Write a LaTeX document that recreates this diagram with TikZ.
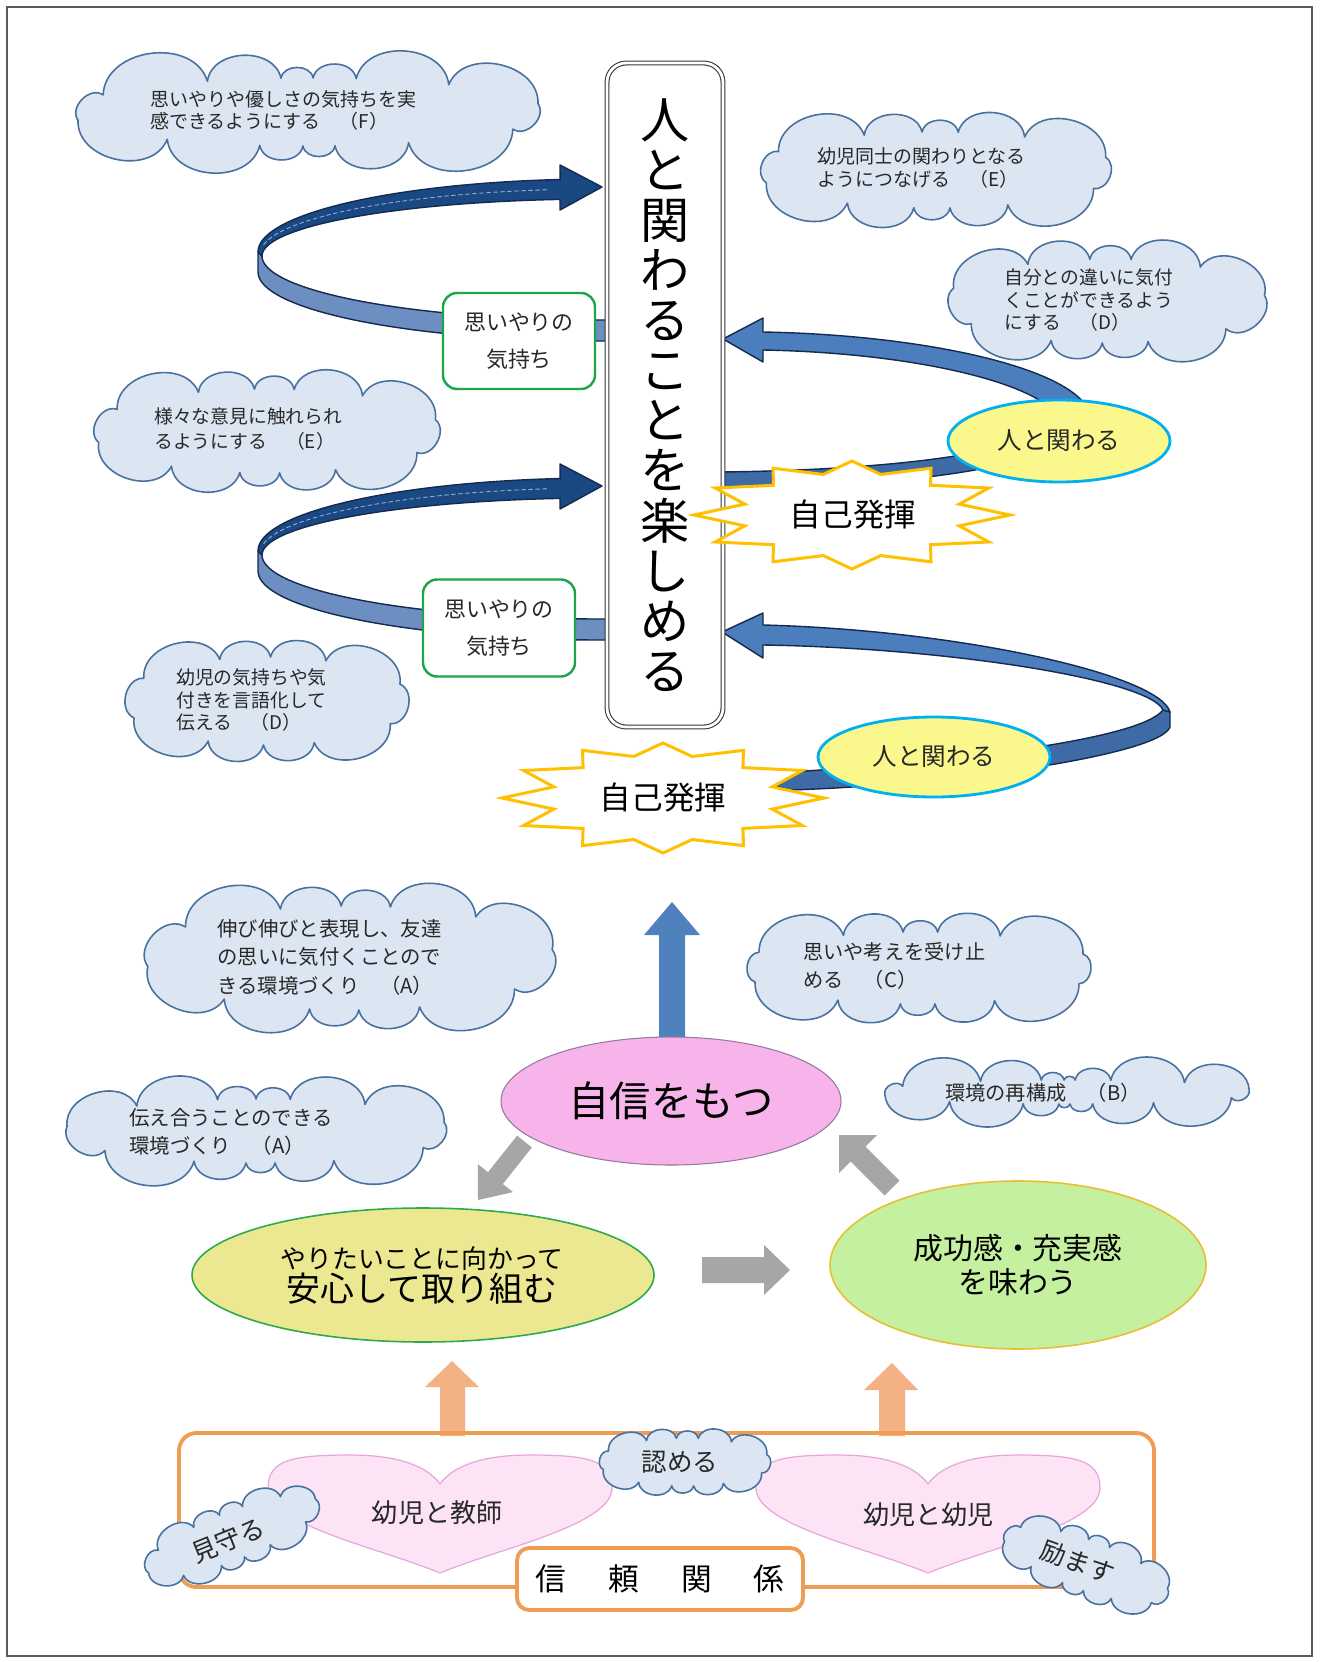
\documentclass[tikz,border=0pt]{standalone}
\usepackage{fontspec}
\setmainfont{Noto Sans CJK JP}
\usetikzlibrary{shapes.geometric}
\definecolor{cloudfill}{RGB}{220,230,242}
\definecolor{cloudline}{RGB}{72,112,160}
\definecolor{txt}{RGB}{40,40,40}
\definecolor{navyfill}{RGB}{26,72,130}
\definecolor{navyback}{RGB}{108,142,192}
\definecolor{bandline}{RGB}{20,42,78}
\definecolor{bluefill}{RGB}{76,125,188}
\definecolor{blueback}{RGB}{62,106,166}
\definecolor{dashc}{RGB}{150,175,210}
\definecolor{boxgreen}{RGB}{30,165,75}
\definecolor{yelfill}{RGB}{250,248,140}
\definecolor{cyanline}{RGB}{0,176,240}
\definecolor{stargold}{RGB}{255,192,0}
\definecolor{arrowblue}{RGB}{79,129,189}
\definecolor{arrowgray}{RGB}{166,166,166}
\definecolor{arroworange}{RGB}{244,177,131}
\definecolor{pinkfill}{RGB}{247,180,234}
\definecolor{pinkline}{RGB}{150,120,160}
\definecolor{khaki}{RGB}{235,232,145}
\definecolor{khakiline}{RGB}{45,170,75}
\definecolor{lgreen}{RGB}{196,240,160}
\definecolor{lgreenline}{RGB}{232,190,50}
\definecolor{heartfill}{RGB}{252,228,246}
\definecolor{heartline}{RGB}{235,165,220}
\definecolor{orangeline}{RGB}{238,157,82}
\definecolor{framegray}{RGB}{90,90,90}
\newcommand\setfs[2]{\fontsize{#1pt}{#2pt}\selectfont}
\def\pxu{0.02cm}
% cloud: cx cy rx ry n alpha offset
\newcommand\cloudat[7]{%
  \filldraw[cloudsty] ({#1+#3*cos(cloudt(#7,#6))},{#2-#4*sin(cloudt(#7,#6))})
  \foreach \i in {1,...,#5} { to[bend right=80, looseness=1.15] ({#1+#3*cos(cloudt(360*\i/#5+#7,#6))},{#2-#4*sin(cloudt(360*\i/#5+#7,#6))}) } -- cycle;
}
\newcommand\leftspiralshape{%
  \filldraw[band, fill=navyback] plot[domain=180:270, samples=40] ({600+338*cos(\x)},{256-64*sin(\x)}) -- (607,320) -- (607,341) -- plot[domain=270:180, samples=40] ({600+342*cos(\x)},{272-69*sin(\x)}) -- (258,252) -- cycle;
  \filldraw[band, fill=navyfill] (560,210) -- (602,187) -- (560,165) -- plot[domain=96.7:180, samples=40] ({600+342*cos(\x)},{252-73*sin(\x)}) -- plot[domain=180:96.8, samples=40] ({600+338*cos(\x)},{256-57*sin(\x)}) -- cycle;
  \draw[dashc, line width=0.5pt, dash pattern=on 2.5pt off 1.5pt] plot[domain=99:172, samples=30] ({600+340*cos(\x)},{254-65*sin(\x)});
}
\newcommand\drawheart[1]{%
  \filldraw[heartsty] (#1,1573) .. controls ({#1-60},1548) and ({#1-172},1525) .. ({#1-172},1488)
    .. controls ({#1-172},1460) and ({#1-148},1455) .. ({#1-90},1455)
    .. controls ({#1-40},1455) and ({#1-12},1467) .. (#1,1484)
    .. controls ({#1+12},1467) and ({#1+40},1455) .. ({#1+90},1455)
    .. controls ({#1+148},1455) and ({#1+172},1460) .. ({#1+172},1488)
    .. controls ({#1+172},1525) and ({#1+60},1548) .. (#1,1573) -- cycle;
}
\begin{document}
\begin{tikzpicture}[x=0.02cm,y=-0.02cm,
  declare function={cloudt(\cu,\ca)=\cu+\ca*sin(2*\cu);},
  cloudsty/.style={draw=cloudline, fill=cloudfill, line width=0.9pt, line join=round},
  ctext/.style={anchor=west, align=left, text=txt, inner sep=0pt},
  smalltxt/.style={text=txt, font=\setfs{14.5}{16}, inner sep=0pt},
  kbox/.style={draw=boxgreen, line width=1.4pt, fill=white, rounded corners=8pt, align=center, text=txt, font=\setfs{12.5}{21}, inner sep=0pt},
  hito/.style={ellipse, draw=cyanline, line width=1.6pt, fill=yelfill, text=txt, font=\setfs{14}{16}, inner sep=0pt},
  starsty/.style={draw=stargold, fill=white, line width=1.7pt, line join=miter},
  startxt/.style={text=black, font=\setfs{18}{20}, inner sep=0pt},
  band/.style={draw=bandline, line width=0.8pt, line join=round},
  heartsty/.style={fill=heartfill, draw=heartline, line width=0.7pt},
  titlebox/.style={draw=black!80, double=white, double distance=1.6pt, line width=0.6pt, rounded corners=11pt, fill=white, align=center, font=\setfs{28}{28.5}, inner sep=0pt},
]
\useasboundingbox (0,0) rectangle (1325,1662);
\fill[white] (0,0) rectangle (1325,1662);
\draw[framegray, line width=0.9pt] (7,7) rectangle (1312,1656);

% ---------- clouds (upper part)
\cloudat{308}{112}{237}{34}{14}{21.5}{8}
\node[ctext, font=\setfs{10.8}{12.5}] (tF) at (150,110) {思いやりや優しさの気持ちを実\\感できるようにする　（F）};
\cloudat{936}{170}{180}{38}{12}{18.6}{12}
\node[ctext, font=\setfs{10.8}{13}] (tEt) at (817,168) {幼児同士の関わりとなる\\ようにつなげる　（E）};
\cloudat{1106}{301}{160}{42}{11}{16.7}{5}
\node[ctext, font=\setfs{10.7}{12.8}] (tDr) at (1004,300) {自分との違いに気付\\くことができるよう\\にする　（D）};
\cloudat{267}{431}{175}{42}{12}{17.2}{10}
\node[ctext, font=\setfs{10.7}{14.2}] (tEl) at (154,429) {様々な意見に触れられ\\るようにする　（E）};
\cloudat{267}{701}{144}{44}{10}{15.2}{15}
\node[ctext, font=\setfs{10.7}{13}] (tDl) at (176,700) {幼児の気持ちや気\\付きを言語化して\\伝える　（D）};

% ---------- spirals
\begin{scope}[shift={(0,0)}] \leftspiralshape \end{scope}
\begin{scope}[shift={(0,299)}] \leftspiralshape \end{scope}
% upper right
\filldraw[band, fill=blueback] (1090,420) .. controls (1060,470) and (900,487) .. (722,487) -- (722,472) .. controls (880,470) and (1030,455) .. (1060,420) -- cycle;
\filldraw[band, fill=bluefill] (763,362) -- (723,339) -- (763,318) -- (763,332) .. controls (930,335) and (1080,370) .. (1090,415) -- (1060,420) .. controls (1045,385) and (920,353) .. (763,350) -- cycle;
% lower right
\filldraw[band, fill=blueback] (1163,710) .. controls (1140,740) and (950,762) .. (790,772) -- (775,786) -- (790,790) .. controls (950,785) and (1160,755) .. (1170,727) -- (1170,712) -- cycle;
\filldraw[band, fill=bluefill] (763,658) -- (722,632) -- (763,613) -- (763,625) .. controls (960,630) and (1160,675) .. (1170,712) -- (1163,710) .. controls (1150,680) and (950,648) .. (763,645) -- cycle;

% ---------- title
\node[titlebox, minimum width=116*\pxu, minimum height=664*\pxu] (title) at (665,395) {人\\と\\関\\わ\\る\\こ\\と\\を\\楽\\し\\め\\る};

\node[kbox, minimum width=152*\pxu, minimum height=96*\pxu] (k1) at (519,341) {思いやりの\\気持ち};
\node[kbox, minimum width=152*\pxu, minimum height=97*\pxu] (k2) at (499,628) {思いやりの\\気持ち};

\node[hito, minimum width=222*\pxu, minimum height=82*\pxu] (h1) at (1059,441) {人と関わる};
\node[hito, minimum width=232*\pxu, minimum height=80*\pxu] (h2) at (934,757) {人と関わる};

% stars
\filldraw[starsty] plot[samples at={0,...,23}, variable=\k] ({852+ifthenelse(mod(\k,2)==0,158,111)*cos(15*\k)},{515-ifthenelse(mod(\k,2)==0,54,42)*sin(15*\k)}) -- cycle;
\node[startxt] (s1) at (853,515) {自己発揮};
\filldraw[starsty] plot[samples at={0,...,23}, variable=\k] ({663+ifthenelse(mod(\k,2)==0,161,113)*cos(15*\k)},{798-ifthenelse(mod(\k,2)==0,55,43)*sin(15*\k)}) -- cycle;
\node[startxt] (s2) at (663,798) {自己発揮};

% ---------- lower clouds
\cloudat{350}{958}{205}{52}{12}{17}{6}
\node[ctext, font=\setfs{11.6}{16.2}] (tAt) at (217,957) {伸び伸びと表現し、友達\\の思いに気付くことので\\きる環境づくり　（A）};
\cloudat{919}{968}{178}{36}{12}{18.9}{14}
\node[ctext, font=\setfs{11.5}{15.9}] (tC) at (803,966) {思いや考えを受け止\\める　（C）};
\cloudat{1067}{1092}{187}{12}{16}{25.2}{7}
\node[ctext, font=\setfs{11.5}{14}] (tB) at (945,1093) {環境の再構成　（B）};
\cloudat{258}{1131}{193}{32}{13}{20.5}{9}
\node[ctext, font=\setfs{11.6}{16.4}] (tAl) at (129,1132) {伝え合うことのできる\\環境づくり　（A）};

% ---------- arrows
\fill[arrowblue] (659,1040) -- (659,935) -- (644,935) -- (672,902) -- (700,935) -- (685,935) -- (685,1040) -- cycle;
\fill[arrowgray] (531.9,1147.4) -- (502.8,1184) -- (513,1192.1) -- (478,1200) -- (477.8,1164.1) -- (488,1172.2) -- (517.1,1135.6) -- cycle;
\fill[arrowgray] (899.4,1180.6) -- (865.4,1146.6) -- (877,1135) -- (839,1135) -- (839,1173) -- (850.6,1161.4) -- (884.6,1195.4) -- cycle;
\fill[arrowgray] (702,1257) -- (764,1257) -- (764,1245) -- (790,1270) -- (764,1295) -- (764,1283) -- (702,1283) -- cycle;
\fill[arroworange] (440,1436) -- (440,1387) -- (425,1387) -- (452,1361) -- (479,1387) -- (465,1387) -- (465,1436) -- cycle;
\fill[arroworange] (879,1436) -- (879,1390) -- (864,1390) -- (892,1363) -- (918,1390) -- (905,1390) -- (905,1436) -- cycle;

% ---------- ellipses
\node[ellipse, fill=pinkfill, draw=pinkline, line width=0.6pt, minimum width=340*\pxu, minimum height=128*\pxu, font=\setfs{23.5}{26}, text=black] (jishin) at (671,1101) {自信をもつ};
\node[ellipse, fill=khaki, draw=khakiline, line width=0.9pt, minimum width=462*\pxu, minimum height=134*\pxu] (anshin) at (423,1275) {};
\node[text=black, font=\setfs{14.7}{16}, inner sep=0pt] (an1) at (422,1259) {やりたいことに向かって};
\node[text=black, font=\setfs{19.3}{21}, inner sep=0pt] (an2) at (422,1289) {安心して取り組む};
\node[ellipse, fill=lgreen, draw=lgreenline, line width=0.9pt, minimum width=376*\pxu, minimum height=168*\pxu, align=center, font=\setfs{17}{19.3}, text=black, inner sep=0pt] (seiko) at (1018,1265) {成功感・充実感\\を味わう};

% ---------- trust frame
\draw[orangeline, line width=2.2pt, rounded corners=10pt] (179,1433) rectangle (1154,1587);
\drawheart{440}
\drawheart{928}
\node[text=txt, font=\setfs{14.8}{16}, inner sep=0pt] (ht1) at (437,1513) {幼児と教師};
\node[text=txt, font=\setfs{14.8}{16}, inner sep=0pt] (ht2) at (928,1515) {幼児と幼児};
\node[draw=orangeline, line width=2.2pt, fill=white, rounded corners=7pt, minimum width=286*\pxu, minimum height=62*\pxu, font=\setfs{17.5}{19}, text=black] (shinrai) at (660,1579) {信\kern24pt 頼\kern24pt 関\kern24pt 係};
\begin{scope}[shift={(232,1536)}, rotate=22]
  \cloudat{0}{0}{92}{24}{12}{15.5}{5}
\end{scope}
\node[smalltxt, rotate=22] (mimamoru) at (228,1540) {見守る};
\cloudat{685}{1462}{86}{24}{12}{15.5}{12}
\node[smalltxt] (mitomeru) at (680,1462) {認める};
\begin{scope}[shift={(1086,1565)}, rotate=-20]
  \cloudat{0}{0}{87}{25}{12}{15.5}{9}
\end{scope}
\node[smalltxt, rotate=-20] (hagemasu) at (1078,1562) {励ます};
\end{tikzpicture}
\end{document}
